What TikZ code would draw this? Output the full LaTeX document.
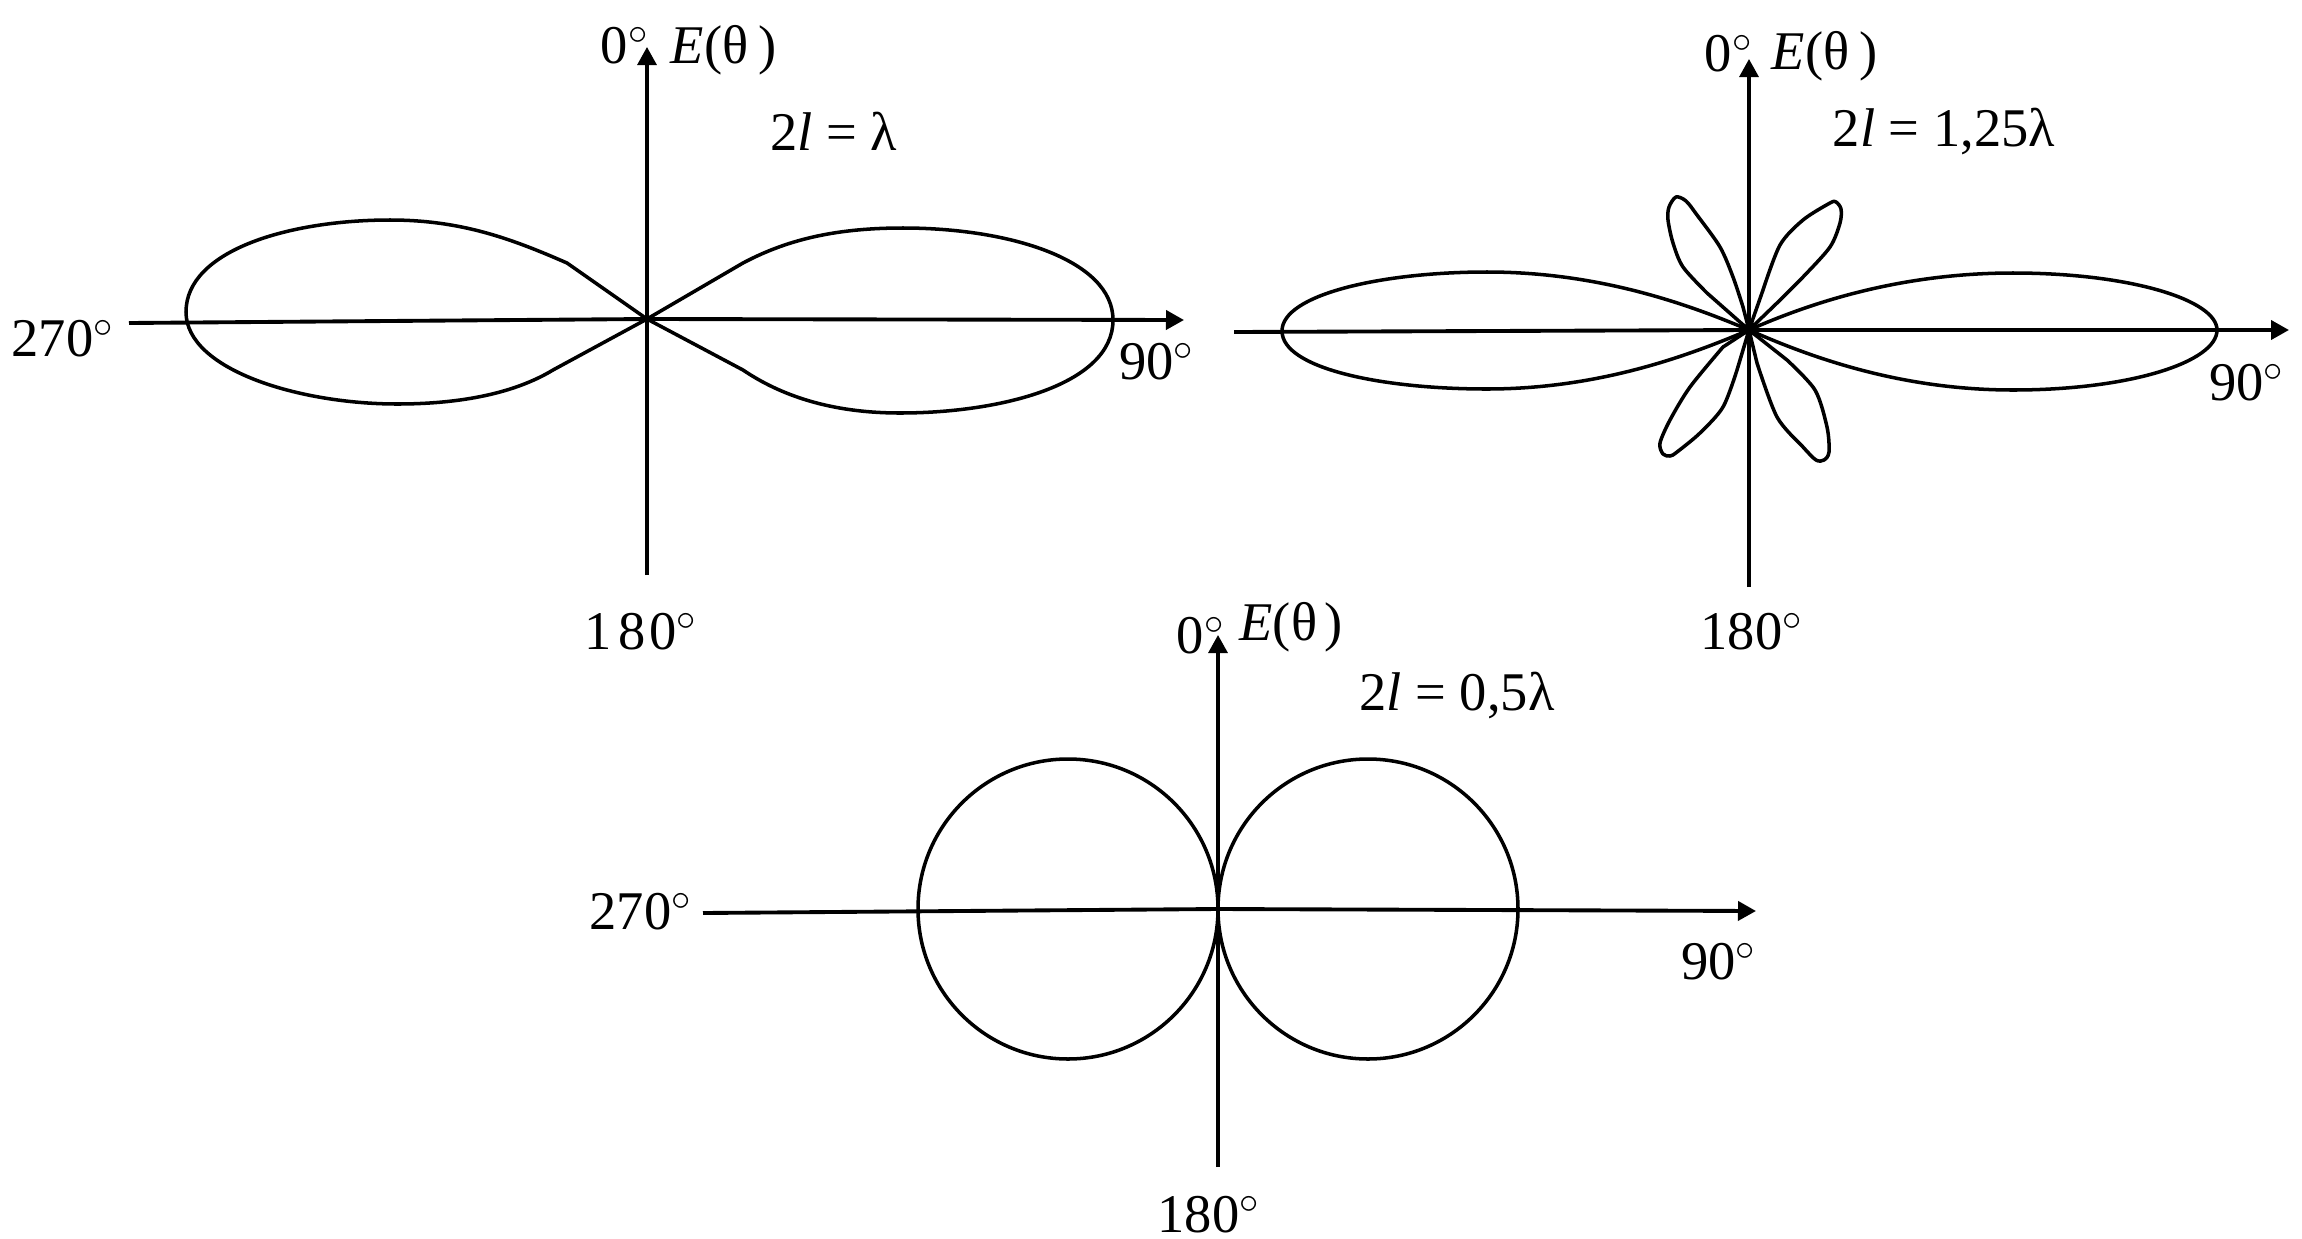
\documentclass[tikz,border=0pt]{standalone}
\usepackage{fontspec}
\setmainfont{Liberation Serif}
\usetikzlibrary{arrows.meta}

\begin{document}
\begin{tikzpicture}[x=0.01cm,y=-0.01cm,
  haxis/.style={line width=1.1pt,-{Triangle[length=0.18cm,width=0.19cm]}},
  vaxis/.style={line width=0.9pt,-{Triangle[length=0.18cm,width=0.19cm]}},
  lobe/.style={line width=1pt,line join=round},
  lbl/.style={inner sep=0pt,anchor=base,font=\fontsize{15.5}{18}\selectfont}]
  \useasboundingbox (0,0) rectangle (2302,1239);

  % 2l = lambda
  \coordinate (O1) at (647,319);
  \coordinate (N1) at (647,47);
  \coordinate (S1) at (647,575);
  \coordinate (W1) at (129,323);
  \coordinate (E1) at (1184,320);
  \draw[vaxis] (S1) -- (N1);
  \draw[haxis] (W1) -- (O1) -- (E1);
  \draw[lobe] (O1) -- (567,263) .. controls (510,238) and (460,220) .. (390,220)
    .. controls (290,220) and (186,250) .. (186,312)
    .. controls (186,370) and (300,404) .. (397,404)
    .. controls (470,404) and (520,390) .. (553,370) -- cycle;
  \draw[lobe] (O1) -- (743,263) .. controls (790,238) and (840,228) .. (903,228)
    .. controls (1010,228) and (1113,260) .. (1113,320)
    .. controls (1113,385) and (1000,413) .. (900,413)
    .. controls (830,413) and (780,395) .. (743,370) -- cycle;
  \node[lbl] (zero1) at (625,63) {0$^{\circ}$};
  \node[lbl] (e1) at (724,63) {\textit{E}(θ\kern3pt)};
  \node[lbl] (len1) at (834,150) {2\textit{l} = λ};
  \node[lbl] (left1) at (63,356) {270$^{\circ}$};
  \node[lbl] (right1) at (1157,379) {90$^{\circ}$};
  \node[lbl] (down1) at (641,649) {1\kern2pt8\kern1pt0$^{\circ}$};

  % 2l = 1,25 lambda
  \coordinate (O2) at (1749,330);
  \coordinate (N2) at (1749,59);
  \coordinate (S2) at (1749,587);
  \coordinate (W2) at (1234,332);
  \coordinate (E2) at (2289,330);
  \draw[vaxis] (S2) -- (N2);
  \draw[haxis] (W2) -- (O2) -- (E2);
  \draw[lobe] (O2) .. controls (1690,305) and (1600,272) .. (1487,272)
    .. controls (1380,272) and (1282,295) .. (1282,331)
    .. controls (1282,368) and (1380,389) .. (1487,389)
    .. controls (1600,389) and (1690,355) .. (O2);
  \draw[lobe] (O2) .. controls (1810,303) and (1900,273) .. (2013,273)
    .. controls (2130,273) and (2217,300) .. (2217,330)
    .. controls (2217,362) and (2130,390) .. (2013,390)
    .. controls (1900,390) and (1810,357) .. (O2);
  \draw[lobe] (O2) -- plot[smooth] coordinates {(1707,293) (1683,267) (1673,243) (1668,220) (1669,207) (1676,197) (1686,201) (1697,215) (1720,247) (1733,277) (1743,307)} -- cycle;
  \draw[lobe] (O2) -- plot[smooth] coordinates {(1763,290) (1780,245) (1803,220) (1830,203) (1836,202) (1841,209) (1840,223) (1830,247) (1803,277) (1777,303)} -- cycle;
  \draw[lobe] (O2) -- plot[smooth] coordinates {(1723,347) (1690,387) (1670,420) (1660,443) (1663,454) (1670,456) (1677,452) (1700,433) (1723,407) (1737,370)} -- cycle;
  \draw[lobe] (O2) -- plot[smooth] coordinates {(1757,363) (1777,417) (1803,447) (1816,460) (1824,460) (1829,452) (1827,427) (1815,390) (1787,360)} -- cycle;
  \node[lbl] (zero2) at (1729,71) {0$^{\circ}$};
  \node[lbl] (e2) at (1825,69) {\textit{E}(θ\kern3pt)};
  \node[lbl] (len2) at (1944,146) {2\textit{l} = 1,25λ};
  \node[lbl] (right2) at (2247,400) {90$^{\circ}$};
  \node[lbl] (down2) at (1752,649) {180$^{\circ}$};

  % 2l = 0,5 lambda
  \coordinate (O3) at (1218,909);
  \coordinate (N3) at (1218,635);
  \coordinate (S3) at (1218,1167);
  \coordinate (W3) at (703,913);
  \coordinate (E3) at (1756,911);
  \coordinate (L3) at (1068,909);
  \coordinate (R3) at (1368,909);
  \draw[vaxis] (S3) -- (N3);
  \draw[haxis] (W3) -- (O3) -- (E3);
  \draw[lobe] (L3) circle[radius=150];
  \draw[lobe] (R3) circle[radius=150];
  \node[lbl] (zero3) at (1201,653) {0$^{\circ}$};
  \node[lbl] (e3) at (1291,640) {\textit{E}(θ\kern2pt)};
  \node[lbl] (len3) at (1457,710) {2\textit{l} = 0,5λ};
  \node[lbl] (left3) at (641,929) {270$^{\circ}$};
  \node[lbl] (right3) at (1719,979) {90$^{\circ}$};
  \node[lbl] (down3) at (1209,1232) {180$^{\circ}$};
\end{tikzpicture}
\end{document}
